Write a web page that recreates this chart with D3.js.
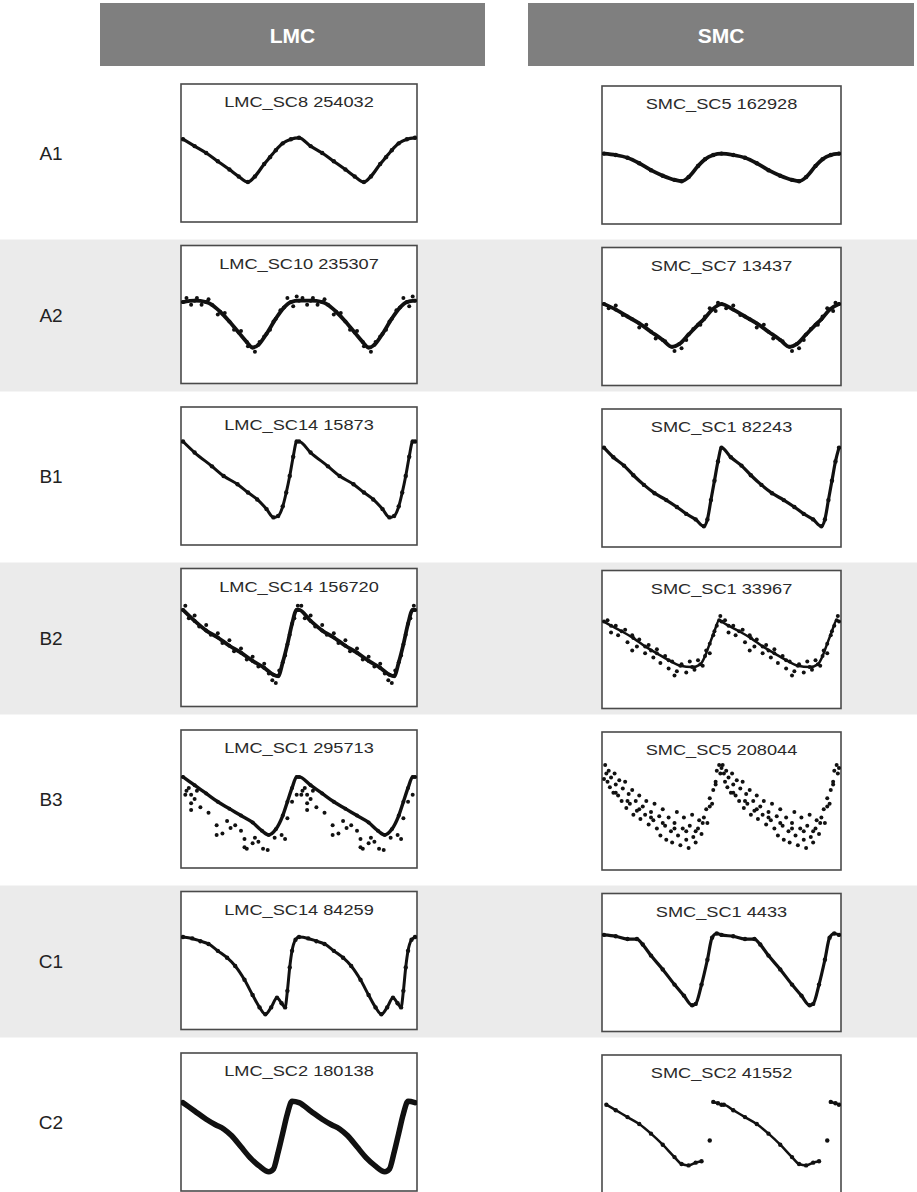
<!DOCTYPE html>
<html>
<head>
<meta charset="utf-8">
<script src="https://cdn.jsdelivr.net/npm/d3@7"></script>
<style>
  body { margin: 0; background: #fff; }
  svg { display: block; font-family: "Liberation Sans", Arial, sans-serif; }
</style>
</head>
<body>
<svg id="lc" width="917" height="1192"></svg>
<script>
// light curve grid: rows are classes, columns are the clouds
var columns = ["LMC", "SMC"];
var rowLabels = ["A1", "A2", "B1", "B2", "B3", "C1", "C2"];
var lmcTitles = ["LMC_SC8 254032", "LMC_SC10 235307", "LMC_SC14 15873", "LMC_SC14 156720",
                 "LMC_SC1 295713", "LMC_SC14 84259", "LMC_SC2 180138"];
var smcTitles = ["SMC_SC5 162928", "SMC_SC7 13437", "SMC_SC1  82243", "SMC_SC1  33967",
                 "SMC_SC5  208044", "SMC_SC1 4433", "SMC_SC2 41552"];

// one cycle each: [phase, depth below top of box in %], shown twice
var lmcA1 = [[0,40],[0.1,45],[0.2,50],[0.3,56],[0.4,62],[0.48,67],[0.56,71],[0.62,67],[0.7,58],
             [0.75,53],[0.8,48],[0.86,43],[0.93,40],[1,39]];
var smcA1 = [[0,49],[0.1,50],[0.2,52],[0.3,56],[0.4,61],[0.5,65],[0.6,68],[0.66,69],[0.72,66],
             [0.8,58],[0.86,53],[0.93,50],[1,49]];
var lmcA2 = [[0,41],[0.1,40],[0.2,41],[0.25,43],[0.32,48],[0.4,55],[0.48,63],[0.55,70],[0.6,74],
             [0.65,72],[0.72,64],[0.8,53],[0.87,45],[0.93,41],[1,40]];
var smcA2 = [[0,41],[0.1,45],[0.2,50],[0.3,55],[0.4,61],[0.5,67],[0.58,72],[0.64,70],[0.72,63],
             [0.8,56],[0.85,52],[0.92,45],[1,41]];
var lmcB1 = [[0,25],[0.1,33],[0.25,43],[0.35,50],[0.47,56],[0.56,62],[0.64,67],[0.72,74],[0.78,80],
             [0.82,79],[0.86,72],[0.89,62],[0.92,50],[0.95,36],[0.98,25],[1,25]];
var smcB1 = [[0,28],[0.08,35],[0.17,41],[0.25,48],[0.34,55],[0.43,61],[0.53,66],[0.62,71],[0.7,76],
             [0.78,80],[0.85,85],[0.88,80],[0.91,66],[0.94,52],[0.97,38],[1,28]];
var lmcB2 = [[0,30],[0.1,38],[0.2,45],[0.3,50],[0.4,56],[0.5,61],[0.6,67],[0.7,72],[0.78,77],
             [0.82,78],[0.86,68],[0.9,55],[0.94,40],[0.98,30],[1,30]];
var smcB2 = [[0,37],[0.06,40],[0.15,44],[0.25,49],[0.35,55],[0.45,60],[0.55,65],[0.65,69],[0.75,70],
             [0.82,68],[0.86,62],[0.9,53],[0.94,44],[0.98,36],[1,37]];
var lmcB3 = [[0,34],[0.1,40],[0.2,46],[0.3,52],[0.4,57],[0.5,62],[0.6,67],[0.68,73],[0.74,76],
             [0.8,72],[0.86,62],[0.9,52],[0.94,42],[0.98,34],[1,34]];
var smcB3 = [[0,34],[0.1,44],[0.2,50],[0.3,56],[0.4,62],[0.5,66],[0.6,70],[0.7,72],[0.78,72],
             [0.84,66],[0.9,54],[0.95,38],[1,26]];
var lmcC1 = [[0,33],[0.08,34],[0.15,36],[0.22,38],[0.3,43],[0.38,48],[0.45,54],[0.53,64],[0.6,75],
             [0.66,84],[0.71,89],[0.76,84],[0.81,77],[0.85,81],[0.88,84],[0.9,72],[0.92,55],[0.94,43],
             [0.97,35],[1,33]];
var smcC1 = [[0,30],[0.1,31],[0.2,33],[0.28,33],[0.33,37],[0.4,45],[0.5,55],[0.6,66],[0.68,74],
             [0.75,81],[0.78,80],[0.83,66],[0.88,48],[0.92,32],[0.96,29],[1,30]];
var lmcC2 = [[0,36],[0.1,42],[0.2,48],[0.28,52],[0.35,55],[0.42,60],[0.5,68],[0.58,76],[0.66,82],
             [0.74,86],[0.78,84],[0.82,72],[0.86,58],[0.9,44],[0.94,35],[1,36]];
var smcC2 = [[0.02,36],[0.1,40],[0.2,45],[0.3,50],[0.4,57],[0.5,65],[0.6,74],[0.66,79],[0.72,80],
             [0.78,78],[0.83,77],null,[0.9,62],null,[0.93,34],[0.97,35],[1,36]];

// scattered points off the main ridge (one cycle)
var lmcA2Noise = [[0.03,38],[0.07,43],[0.12,38],[0.16,43],[0.22,39],[0.3,50],[0.36,49],[0.44,61],
                  [0.5,62],[0.56,73],[0.62,77],[0.66,70],[0.7,66],[0.75,61],[0.78,55],[0.84,47],
                  [0.9,38],[0.95,44],[0.98,37]];
var smcA2Noise = [[0.04,44],[0.1,42],[0.16,49],[0.24,52],[0.3,58],[0.36,56],[0.44,66],[0.52,68],
                  [0.6,75],[0.66,73],[0.7,67],[0.76,59],[0.82,56],[0.86,50],[0.9,44],[0.95,46],[0.97,40]];
var lmcB2Noise = [[0.02,27],[0.05,36],[0.1,34],[0.14,42],[0.2,41],[0.24,48],[0.3,47],[0.34,54],
                  [0.4,52],[0.44,60],[0.5,58],[0.55,66],[0.6,64],[0.65,71],[0.7,69],[0.74,76],
                  [0.77,81],[0.8,83],[0.83,74],[0.88,63],[0.92,48],[0.96,36],[0.99,27]];
var smcB2Noise = [[0.03,36],[0.06,45],[0.1,40],[0.12,47],[0.18,43],[0.2,52],[0.24,47],[0.28,55],
                  [0.3,50],[0.35,60],[0.38,54],[0.42,63],[0.45,57],[0.48,67],[0.52,62],[0.55,71],
                  [0.58,66],[0.62,73],[0.66,68],[0.7,74],[0.73,66],[0.77,72],[0.8,65],[0.84,69],
                  [0.87,58],[0.9,60],[0.93,47],[0.96,40],[0.99,33],[0.24,58],[0.4,58],[0.6,76]];
var lmcB3Noise = [[0.03,44],[0.07,47],[0.07,53],[0.07,58],[0.12,44],[0.15,56],[0.22,60],[0.29,69],
                  [0.29,76],[0.34,75],[0.41,71],[0.45,69],[0.5,73],[0.53,79],[0.53,85],[0.55,86],
                  [0.6,82],[0.65,81],[0.69,86],[0.73,87],[0.79,78],[0.85,76],[0.88,79],[0.9,64],
                  [0.94,52],[0.98,47],[0.02,47],[0.05,42],[0.1,50],[0.38,66],[0.62,78]];
var smcB3Noise = [[0.01,24],[0.02,30],[0.03,36],[0.04,28],[0.05,40],[0.06,33],[0.08,44],[0.09,30],
                  [0.1,38],[0.12,46],[0.13,35],[0.15,50],[0.16,41],[0.18,36],[0.19,55],[0.21,45],
                  [0.22,52],[0.24,42],[0.25,60],[0.27,50],[0.28,57],[0.3,46],[0.31,63],[0.33,54],
                  [0.35,60],[0.36,50],[0.38,67],[0.4,58],[0.42,64],[0.43,52],[0.45,70],[0.47,61],
                  [0.48,75],[0.5,56],[0.52,68],[0.53,78],[0.55,62],[0.57,72],[0.58,80],[0.6,66],
                  [0.62,58],[0.63,75],[0.65,82],[0.67,70],[0.68,62],[0.7,78],[0.72,84],[0.73,68],
                  [0.75,60],[0.76,76],[0.78,80],[0.8,70],[0.81,64],[0.83,74],[0.85,62],[0.87,56],
                  [0.88,66],[0.9,48],[0.92,52],[0.93,42],[0.95,36],[0.96,28],[0.98,24],[0.99,30]];

var lmcCurves = [lmcA1, lmcA2, lmcB1, lmcB2, lmcB3, lmcC1, lmcC2];
var smcCurves = [smcA1, smcA2, smcB1, smcB2, smcB3, smcC1, smcC2];
var lmcNoise = [null, lmcA2Noise, null, lmcB2Noise, lmcB3Noise, null, null];
var smcNoise = [null, smcA2Noise, null, smcB2Noise, smcB3Noise, null, null];

var lmcStroke = [3.2, 3.8, 3, 3.8, 3.4, 3, 5.5];
var smcStroke = [3.8, 3.8, 3.2, 2.5, 0, 3.2, 2.5];

var svg = d3.select("svg#lc");
var rowTop = function(i) { return 84 + i * 161.5; };
var boxH = 138;
var cols = [
    { name: columns[0], barX: 100, barW: 385, boxX: 181, boxW: 236, dy: 0,
      titles: lmcTitles, curves: lmcCurves, noise: lmcNoise, stroke: lmcStroke },
    { name: columns[1], barX: 528, barW: 386, boxX: 602, boxW: 239, dy: 2,
      titles: smcTitles, curves: smcCurves, noise: smcNoise, stroke: smcStroke }
];

// shaded bands behind every other row
rowLabels.forEach(function(r, i) {
    if (i % 2 == 1) {
        svg.append("rect")
            .attr("x", 0).attr("y", rowTop(i) - 6)
            .attr("width", 917).attr("height", 152)
            .attr("fill", "#ebebeb");
    }
    svg.append("text")
        .attr("x", 51).attr("y", rowTop(i) + boxH / 2 + 7)
        .attr("text-anchor", "middle")
        .attr("font-size", "19px")
        .attr("fill", "#222")
        .text(r);
});

var uid = 0;
cols.forEach(function(c) {
    svg.append("rect")
        .attr("x", c.barX).attr("y", 3)
        .attr("width", c.barW).attr("height", 63)
        .attr("fill", "#7f7f7f");
    svg.append("text")
        .attr("x", c.barX + c.barW / 2).attr("y", 43)
        .attr("text-anchor", "middle")
        .attr("font-size", "21px")
        .attr("font-weight", "bold")
        .attr("fill", "#fff")
        .text(c.name);

    c.curves.forEach(function(curve, i) {
        var top = rowTop(i) + c.dy;
        var x = d3.scaleLinear().domain([0, 2]).range([c.boxX + 2, c.boxX + c.boxW - 2]);
        var y = d3.scaleLinear().domain([0, 100]).range([top, top + boxH]);
        var id = "clip" + (uid++);

        svg.append("clipPath").attr("id", id)
            .append("rect")
            .attr("x", c.boxX).attr("y", top)
            .attr("width", c.boxW).attr("height", boxH);

        svg.append("rect")
            .attr("x", c.boxX).attr("y", top)
            .attr("width", c.boxW).attr("height", boxH)
            .attr("fill", "#fff")
            .attr("stroke", "#4a4a4a")
            .attr("stroke-width", 1.6);

        var cx = c.boxX + c.boxW / 2;
        svg.append("text")
            .attr("transform", "translate(" + cx + "," + (top + 23) + ") scale(1.3,1)")
            .attr("text-anchor", "middle")
            .attr("font-size", "14px")
            .attr("fill", "#2a2a2a")
            .text(c.titles[i]);

        // phased curve drawn over two cycles
        var twice = curve.concat(
            curve.filter(function(d) { return !d || d[0] > 0; })
                 .map(function(d) { return d && [d[0] + 1, d[1]]; })
        );
        var g = svg.append("g").attr("clip-path", "url(#" + id + ")");

        if (c.stroke[i] > 0) {
            var line = d3.line()
                .defined(function(d) { return d; })
                .x(function(d) { return x(d[0]); })
                .y(function(d) { return y(d[1]); })
                .curve(d3.curveMonotoneX);
            g.append("path")
                .attr("d", line(twice))
                .attr("fill", "none")
                .attr("stroke", "#111")
                .attr("stroke-width", c.stroke[i])
                .attr("stroke-linejoin", "round")
                .attr("stroke-linecap", "round");
        }

        var pts = twice.filter(function(d) { return d; });
        var extra = c.noise[i];
        if (extra) {
            pts = pts.concat(extra, extra.map(function(d) { return [d[0] + 1, d[1]]; }));
        }
        g.selectAll("circle")
            .data(pts)
            .enter()
            .append("circle")
            .attr("cx", function(d) { return x(d[0]); })
            .attr("cy", function(d) { return y(d[1]); })
            .attr("r", extra ? 2 : 2.2)
            .attr("fill", "#111");
    });
});
</script>
</body>
</html>
